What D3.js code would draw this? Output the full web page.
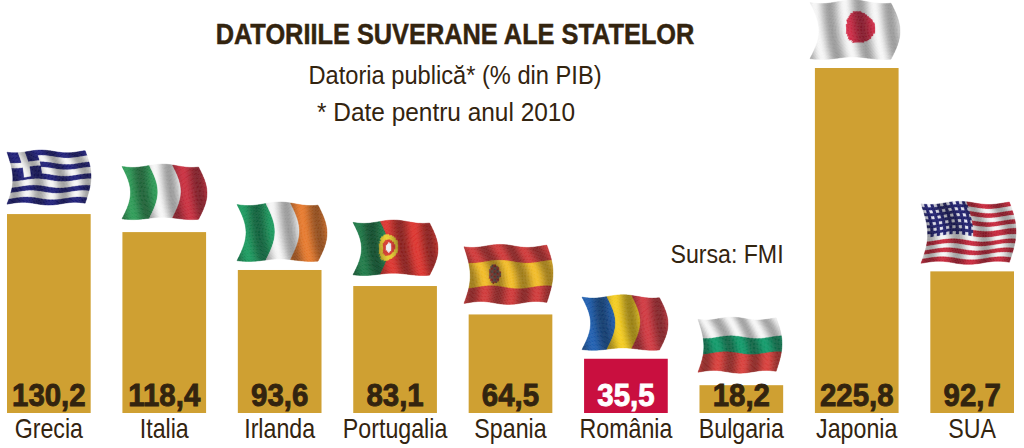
<!DOCTYPE html>
<html>
<head>
<meta charset="utf-8">
<script src="https://d3js.org/d3.v7.min.js"></script>
<style>
html, body { margin: 0; padding: 0; background: #fff; }
svg { display: block; }
text { font-family: "Liberation Sans", sans-serif; fill: #33240f; }
</style>
</head>
<body>
<script>
//Data
var countries = ["Grecia", "Italia", "Irlanda", "Portugalia", "Spania", "România", "Bulgaria", "Japonia", "SUA"];
var debt = [130.2, 118.4, 93.6, 83.1, 64.5, 35.5, 18.2, 225.8, 92.7];
var valueLabels = ["130,2", "118,4", "93,6", "83,1", "64,5", "35,5", "18,2", "225,8", "92,7"];
var highlighted = ["România"];

//Width and height
var width = 1024;
var height = 448;
var barBottom = 413;
var pxPerUnit = 345 / 225.8;

var barColor = "#cfa032";
var redBar = "#c90f3f";

var svg = d3.select("body").append("svg")
	.attr("width", width)
	.attr("height", height);

var defs = svg.append("defs");
defs.append("filter").attr("id", "soft")
	.attr("x", "-5%").attr("y", "-5%").attr("width", "110%").attr("height", "110%")
	.append("feGaussianBlur").attr("stdDeviation", 0.5);

var x = d3.scaleBand()
	.domain(countries)
	.range([7, 1014])
	.paddingInner(0.275)
	.paddingOuter(0);

var y = d3.scaleLinear()
	.domain([0, 225.8])
	.range([barBottom, barBottom - 225.8 * pxPerUnit]);

//the font has no narrow cut here, so the text is squeezed sideways
function squeezed(px, py, k) {
	return "translate(" + px + "," + py + ") scale(" + k + ",1)";
}

//the bars
svg.selectAll("rect.bar")
	.data(countries)
	.enter()
	.append("rect")
	.attr("class", "bar")
	.attr("x", function (d) { return x(d); })
	.attr("y", function (d, i) { return y(debt[i]); })
	.attr("width", x.bandwidth())
	.attr("height", function (d, i) { return y(0) - y(debt[i]); })
	.attr("fill", function (d) { return highlighted.indexOf(d) >= 0 ? redBar : barColor; });

//value inside each bar
svg.selectAll("text.value")
	.data(countries)
	.enter()
	.append("text")
	.attr("class", "value")
	.attr("transform", function (d) {
		return squeezed(x(d) + x.bandwidth() / 2, 406, 0.92);
	})
	.attr("text-anchor", "middle")
	.style("font-weight", "bold")
	.style("font-size", "32px")
	.style("stroke-width", "0.9px")
	.style("fill", function (d) { return highlighted.indexOf(d) >= 0 ? "#fff" : "#33240f"; })
	.style("stroke", function (d) { return highlighted.indexOf(d) >= 0 ? "#fff" : "#33240f"; })
	.text(function (d, i) { return valueLabels[i]; });

//category names
svg.selectAll("text.name")
	.data(countries)
	.enter()
	.append("text")
	.attr("class", "name")
	.attr("transform", function (d) {
		return squeezed(x(d) + x.bandwidth() / 2, 438, 0.86);
	})
	.attr("text-anchor", "middle")
	.style("font-size", "27px")
	.text(function (d) { return d; });

//titles
svg.append("text").attr("transform", squeezed(455, 44, 0.845)).attr("text-anchor", "middle")
	.style("font-size", "30px").style("font-weight", "bold").style("stroke", "#33240f").style("stroke-width", "0.5px")
	.text("DATORIILE SUVERANE ALE STATELOR");
svg.append("text").attr("transform", squeezed(455, 84, 0.91)).attr("text-anchor", "middle")
	.style("font-size", "26px").text("Datoria publică* (% din PIB)");
svg.append("text").attr("transform", squeezed(446, 121, 0.94)).attr("text-anchor", "middle")
	.style("font-size", "26px").text("* Date pentru anul 2010");
svg.append("text").attr("transform", squeezed(727, 263, 0.926)).attr("text-anchor", "middle")
	.style("font-size", "25px").text("Sursa: FMI");

// ---- flags: each one is a small mesh bent like a cloth ----
function inDisc(u, v, cx, cy, rx, ry) {
	var a = (u - cx) / rx, b = (v - cy) / ry;
	return a * a + b * b <= 1;
}

var blue = "#20207a", white = "#f6f6f6";

function greekPaint(u, v) {
	if (u < 0.37 && v < 0.5) {
		var cross = Math.abs(u - 0.185) < 0.045 || Math.abs(v - 0.25) < 0.06;
		return cross ? white : blue;
	}
	return Math.floor(v * 9) % 2 === 0 ? blue : white;
}
function italianPaint(u) { return u < 0.36 ? "#2f9c58" : u < 0.66 ? white : "#c93040"; }
function irishPaint(u) { return u < 0.36 ? "#1d9a5f" : u < 0.66 ? white : "#e67a2e"; }
function portuguesePaint(u, v) {
	if (inDisc(u, v, 0.36, 0.50, 0.04, 0.09)) { return "#eef0f4"; }
	if (inDisc(u, v, 0.36, 0.50, 0.08, 0.16)) { return "#d83a30"; }
	if (inDisc(u, v, 0.36, 0.50, 0.13, 0.25)) { return "#e8cc30"; }
	return u < 0.36 ? "#1f7a48" : "#dc3530";
}
function spanishPaint(u, v) {
	if (v > 0.27 && v < 0.73) {
		if (inDisc(u, v, 0.30, 0.52, 0.07, 0.17)) {
			return (Math.floor(u * 28) + Math.floor(v * 20)) % 2 ? "#a03a30" : "#6a5a50";
		}
		return "#f2bc28";
	}
	return "#d03a3a";
}
function romanianPaint(u) { return u < 0.32 ? "#1f5fb0" : u < 0.64 ? "#f4cc20" : "#d03a42"; }
function bulgarianPaint(u, v) { return v < 0.34 ? white : v < 0.66 ? "#149a6a" : "#d8403c"; }
function japanesePaint(u, v) { return inDisc(u, v, 0.52, 0.48, 0.18, 0.28) ? "#d42c48" : "#f6f6f6"; }
function americanPaint(u, v) {
	if (u < 0.52 && v < 0.56) {
		var col = Math.floor(u * 28), row = Math.floor(v * 20);
		return col % 2 === 0 && row % 2 === 0 ? "#e8e8f4" : "#20206e";
	}
	return Math.floor(v * 13) % 2 === 0 ? "#c8283c" : white;
}

//tricolours hang in a crescent, the horizontal ones ripple more
function crescent(u, v) {
	var s = Math.sin(Math.PI * v);
	return [
		u * 0.9 + 0.1 * s,
		v * 0.94 + 0.03 + 0.03 * Math.sin(u * Math.PI * 2.6 + 0.4) * (1 - 0.3 * v)
	];
}
function ripple(u, v) {
	var s = Math.sin(Math.PI * v);
	return [
		u * 0.93 + 0.07 * s,
		v * 0.95 + 0.025 + 0.025 * Math.sin(u * Math.PI * 3 + v * 2.2 + 0.6)
	];
}
function foldsAcross(u, v) {
	var w = Math.sin(u * 17 + 1.8 * Math.sin(v * 3) + 0.6 - 2 * v * v);
	return 0.68 + 0.32 * w;
}
function foldsAlong(u, v) {
	return 0.7 + 0.3 * Math.sin(u * 20 - v * 3.4);
}

//one row per flag, same order as countries; gap is the air above the bar
var flagPaints = [greekPaint, italianPaint, irishPaint, portuguesePaint, spanishPaint, romanianPaint, bulgarianPaint, japanesePaint, americanPaint];
var flagBends = [ripple, crescent, crescent, crescent, ripple, crescent, ripple, crescent, ripple];
var flagFolds = [foldsAlong, foldsAcross, foldsAcross, foldsAcross, foldsAlong, foldsAcross, foldsAlong, foldsAcross, foldsAlong];
var flagLeft = [7, 122, 237, 353, 464, 582, 698, 810, 921];
var flagWidth = [84, 85, 90, 85, 89, 86, 84, 90, 95];
var flagHeight = [55, 56, 60, 56, 60, 56, 56, 60, 63];
var flagGap = [9, 12, 8, 10, 10, 8, 12, 8, 7];

function shade(color, amount) {
	var c = d3.rgb(color);
	var k = 0.42 + 0.58 * amount;
	return d3.rgb(c.r * k, c.g * k, c.b * k).formatHex();
}

var cols = 56, rows = 40;

countries.forEach(function (name, i) {
	var bottom = y(debt[i]) - flagGap[i];
	var top = bottom - flagHeight[i];
	var cells = [];
	var a, b;
	for (a = 0; a < cols; a++) {
		for (b = 0; b < rows; b++) {
			cells.push([a / cols, b / rows]);
		}
	}
	function place(u, v) {
		var p = flagBends[i](u, v);
		return [flagLeft[i] + p[0] * flagWidth[i], top + p[1] * flagHeight[i]];
	}
	svg.append("g")
		.attr("class", "flag")
		.attr("filter", "url(#soft)")
		.selectAll("polygon")
		.data(cells)
		.enter()
		.append("polygon")
		.attr("points", function (d) {
			var du = 1 / cols, dv = 1 / rows;
			return [place(d[0], d[1]), place(d[0] + du, d[1]), place(d[0] + du, d[1] + dv), place(d[0], d[1] + dv)]
				.map(function (p) { return p[0].toFixed(2) + "," + p[1].toFixed(2); }).join(" ");
		})
		.each(function (d) {
			var u = d[0] + 0.5 / cols, v = d[1] + 0.5 / rows;
			var c = shade(flagPaints[i](u, v), flagFolds[i](u, v));
			d3.select(this).attr("fill", c).attr("stroke", c).attr("stroke-width", 0.4);
		});
});
</script>
</body>
</html>
